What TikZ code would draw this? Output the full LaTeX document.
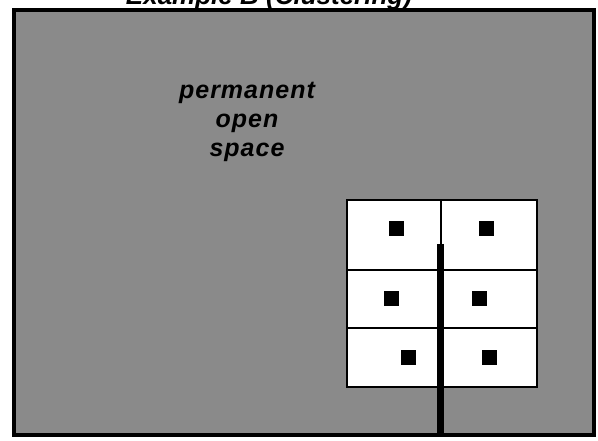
\documentclass[tikz,border=0pt]{standalone}
\usepackage{fontspec}
\setmainfont{Liberation Sans}
\begin{document}
\begin{tikzpicture}[x=1pt,y=-1pt,
  lot/.style={draw=black,line width=1.5pt,fill=white},
  house/.style={fill=black,draw=none,minimum size=15pt,inner sep=0pt,anchor=north west},
  lbl/.style={anchor=base,inner sep=0pt,font=\fontsize{25}{29}\selectfont\bfseries\itshape\addfontfeature{LetterSpace=4}}]
\useasboundingbox (0,0) rectangle (598,441);
% site
\fill[white] (0,0) rectangle (598,441);
\draw[line width=4pt,fill=black!46] (13.5,10.5) rectangle (593.5,434.5);
% title (cut off at top, as in the reference)
\node[anchor=base,inner sep=0pt,font=\fontsize{26}{30}\selectfont\bfseries\itshape] (title) at (269,5) {Example B (Clustering)};
% label
\node[lbl] (l1) at (247,99) {permanent};
\node[lbl] (l2) at (247,128) {open};
\node[lbl] (l3) at (247,157) {space};
% lots
\draw[lot] (347,200) rectangle (441,270);
\draw[lot] (441,200) rectangle (537,270);
\draw[lot] (347,270) rectangle (441,328);
\draw[lot] (441,270) rectangle (537,328);
\draw[lot] (347,328) rectangle (441,387);
\draw[lot] (441,328) rectangle (537,387);
% houses
\node[house] (h1) at (388.5,221) {};
\node[house] (h2) at (479,221) {};
\node[house] (h3) at (384,291) {};
\node[house] (h4) at (472,291) {};
\node[house] (h5) at (401,349.5) {};
\node[house] (h6) at (482,349.5) {};
% road
\coordinate (roadtop) at (440.5,244);
\coordinate (roadend) at (440.5,433);
\draw[line width=7pt] (roadtop) -- (roadend);
\end{tikzpicture}
\end{document}
